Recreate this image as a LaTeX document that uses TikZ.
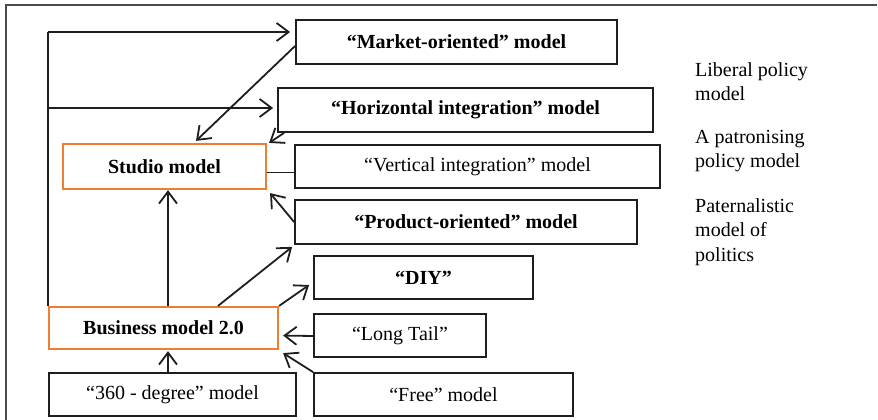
\documentclass[tikz,border=0pt]{standalone}
\usepackage{fontspec}
\setmainfont{Liberation Serif}
\usetikzlibrary{arrows.meta,calc}
\definecolor{hubedge}{RGB}{237,125,49}
\definecolor{inkline}{RGB}{30,30,30}
\begin{document}
\begin{tikzpicture}[x=1pt,y=-1pt,
  box/.style={draw=inkline, line width=1.8pt, minimum height=44pt, inner sep=0pt,
    font=\fontsize{20}{24}\selectfont},
  bold/.style={font=\fontsize{20}{24}\selectfont\bfseries},
  hub/.style={box, draw=hubedge, line width=2.2pt, font=\fontsize{20}{24}\selectfont\bfseries},
  arr/.style={draw=inkline, line width=1.8pt, -{Straight Barb[length=12pt,width=18pt]}},
  link/.style={draw=inkline, line width=1.8pt},
  note/.style={anchor=north west, inner sep=0pt, align=left,
    font=\fontsize{20}{24.5}\selectfont}]
\useasboundingbox (0,0) rectangle (878,420);

% outer frame (top and left edges only)
\draw[line width=2pt, black!70] (877,5) -- (6,5) -- (6,420);

% model boxes
\node[box,bold,minimum width=321pt] (market) at (456.5,42) {“Market-oriented” model};
\node[box,bold,minimum width=375pt] (horiz) at (465.5,110) {“Horizontal integration” model};
\node[box,minimum width=365pt,minimum height=43pt] (vert) at (477.5,166.5) {“Vertical integration” model};
\node[box,bold,minimum width=342pt] (product) at (466,222) {“Product-oriented” model};
\node[box,bold,minimum width=219pt,minimum height=43pt] (diy) at (423.5,277.5) {“DIY”};
\node[box,minimum width=172pt,minimum height=43pt] (longtail) at (400,335.5) {“Long Tail”};
\node[box,minimum width=259pt,minimum height=43pt] (free) at (443.5,394.5) {“Free” model};
\node[hub,minimum width=203pt,minimum height=45pt] (studio) at (164.5,166.5) {Studio model};
\node[hub,minimum width=229pt,minimum height=42pt] (business) at (163.5,328) {Business model 2.0};
\node[box,minimum width=247pt,minimum height=43pt] (deg) at (172.5,394.5) {“360 - degree” model};

% policy labels
\node[note] (liberal) at (695,62) {Liberal policy\\model};
\node[note] (patron) at (695,130) {A patronising\\policy model};
\node[note] (patern) at (695,198) {Paternalistic\\model of\\politics};

% feedback loop on the left
\coordinate (loopTop) at (48,32);
\coordinate (loopMid) at (48,108);
\draw[link] (loopTop) -- (loopTop |- business.north);
\draw[arr, shorten >=5pt] (loopTop) -- (loopTop -| market.west);
\draw[arr, shorten >=4pt] (loopMid) -- (loopMid -| horiz.west);

% connectors into the studio model
\draw[arr] ([yshift=-4pt]market.west) -- ([xshift=31.5pt,yshift=2pt]studio.north);
\draw[arr] ([xshift=7pt]horiz.south west) -- ([xshift=2pt]studio.north east);
\draw[inkline, line width=1pt] ([yshift=-5.5pt]studio.east) -- ([yshift=-5.5pt]vert.west);
\draw[arr] (product.west) -- ([xshift=3pt,yshift=-3pt]studio.south east);
\draw[arr] ([xshift=4.5pt]business.north) -- ([xshift=4.5pt]business.north |- studio.south);

% connectors around the business model
\draw[arr] ([xshift=54.5pt]business.north) -- ([xshift=-2pt,yshift=-2pt]product.south west);
\draw[arr] (business.north east) -- ([xshift=-4pt,yshift=-7.5pt]diy.west);
\draw[arr, shorten >=4pt] ([yshift=-0.5pt]longtail.west) -- (business.east |- longtail.west);
\draw[arr] (free.north west) -- ([xshift=4pt,yshift=-3pt]business.south east);
\draw[arr, shorten >=1pt] ([xshift=-4.5pt]deg.north) -- ([xshift=4.5pt]business.south);
\end{tikzpicture}
\end{document}
